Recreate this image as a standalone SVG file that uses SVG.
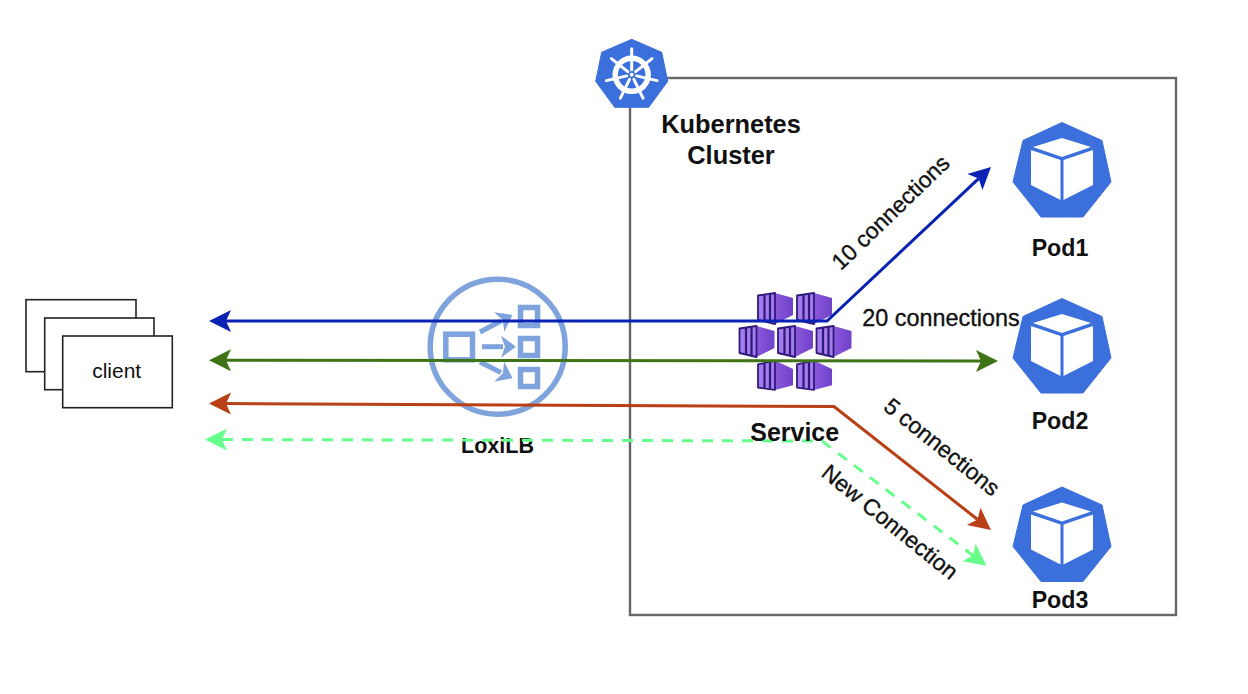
<svg xmlns="http://www.w3.org/2000/svg" width="1248" height="694" viewBox="0 0 1248 694">
<style>
text{font-family:"Liberation Sans",Arial,sans-serif;fill:#111}
.b{font-weight:bold;text-anchor:middle}
.pod{font-size:23.2px}
.lab{font-size:23.4px;text-anchor:middle;stroke:#111;stroke-width:.35px}
.rot{font-size:22.8px}
.box{fill:#fff;stroke:#222;stroke-width:1.6}
.conn{fill:none;stroke-width:3;stroke-linejoin:miter}
.lx{fill:none;stroke:#7ea3dd;stroke-width:5.5}
</style>
<defs>
<marker id="mb" markerUnits="userSpaceOnUse" markerWidth="24" markerHeight="24" refX="5" refY="11" orient="auto-start-reverse" viewBox="0 0 24 24"><path d="M22,11L0,0L5,11L0,22Z" fill="#0a22b4"/></marker>
<marker id="mg" markerUnits="userSpaceOnUse" markerWidth="24" markerHeight="24" refX="5" refY="11" orient="auto-start-reverse" viewBox="0 0 24 24"><path d="M22,11L0,0L5,11L0,22Z" fill="#3f7416"/></marker>
<marker id="mr" markerUnits="userSpaceOnUse" markerWidth="24" markerHeight="24" refX="5" refY="11" orient="auto-start-reverse" viewBox="0 0 24 24"><path d="M22,11L0,0L5,11L0,22Z" fill="#b93f15"/></marker>
<marker id="ml" markerUnits="userSpaceOnUse" markerWidth="24" markerHeight="24" refX="5" refY="11" orient="auto-start-reverse" viewBox="0 0 24 24"><path d="M22,11L0,0L5,11L0,22Z" fill="#66ff8c"/></marker>
<marker id="mx" markerUnits="userSpaceOnUse" markerWidth="20" markerHeight="22" refX="4" refY="11" orient="auto" viewBox="0 0 20 22"><path d="M17,11L2,0L6,11L2,22Z" fill="#7ea3dd"/></marker>
<linearGradient id="cg" x1="0" x2="1" y1="0" y2="0"><stop offset="0" stop-color="#8a58dc"/><stop offset="1" stop-color="#6f42c8"/></linearGradient>
<g id="pod">
<path d="M0,-47.5L40,-29.5L49,12L21,47L-21,47L-49,12L-39,-29.5Z" fill="#3a6fdc" stroke="#3a6fdc" stroke-width="1" stroke-linejoin="round"/>
<path d="M0,-32L29,-23L0,-13L-29,-23Z M-31,-20L-1.5,-10L-1.5,30L-31,15Z M1.5,-10L31,-20L31,15L1.5,30Z" fill="#fff"/>
</g>
<g id="ctr">
<path d="M17,0L35,5L35,22L17,31Z" fill="url(#cg)"/>
<path d="M0,2.5L17,0L17,31L0,27Z" fill="#a47cf0" stroke="#2f1a78" stroke-width="1.8" stroke-linejoin="round"/>
<path d="M6.5,2V28M12,1.2V29.5" stroke="#2f1a78" stroke-width="2.2" fill="none"/>
</g>
</defs>

<g id="cluster">
<rect x="630" y="78" width="546" height="537" fill="none" stroke="#666" stroke-width="2.4"/>
<text class="b" x="731" y="133" font-size="25.4">Kubernetes</text>
<text class="b" x="731" y="164" font-size="25.4">Cluster</text>
</g>

<g id="k8s-icon" transform="translate(631.7,73.3)">
<path d="M0,-34L30,-21L36,8L17,34L-17,34L-36,8L-30,-21Z" fill="#3a6fdc" stroke="#3a6fdc" stroke-linejoin="round" stroke-width="1"/>
<g transform="translate(0,1.5)" fill="none" stroke="#fff">
<circle r="16.5" stroke-width="5.5"/>
<circle r="2" fill="#fff" stroke="none"/>
<g stroke-width="3" stroke-linecap="round">
<path d="M0,-5V-26"/>
<path d="M3.9,-3.1L20.3,-16.2"/>
<path d="M4.9,1.1L25.3,5.8"/>
<path d="M2.2,4.5L11.3,23.4"/>
<path d="M-2.2,4.5L-11.3,23.4"/>
<path d="M-4.9,1.1L-25.3,5.8"/>
<path d="M-3.9,-3.1L-20.3,-16.2"/>
</g>
</g>
</g>

<g id="loxilb">
<circle class="lx" cx="497.7" cy="346.7" r="67.5"/>
<rect class="lx" x="445.8" y="334.2" width="26.7" height="25.6"/>
<rect class="lx" x="520.5" y="307.5" width="17" height="18"/>
<rect class="lx" x="520.5" y="338.5" width="17" height="17"/>
<rect class="lx" x="520.5" y="369.5" width="17" height="17"/>
<path d="M480,332L501,321" stroke="#7ea3dd" stroke-width="5" fill="none" marker-end="url(#mx)"/>
<path d="M482,346.7L503,346.7" stroke="#7ea3dd" stroke-width="5" fill="none" marker-end="url(#mx)"/>
<path d="M480,362L501,372.5" stroke="#7ea3dd" stroke-width="5" fill="none" marker-end="url(#mx)"/>
<text class="b" x="497.5" y="453" font-size="21.5">LoxiLB</text>
</g>

<g id="clients">
<rect class="box" x="26" y="299.7" width="110" height="72"/>
<rect class="box" x="44.7" y="318" width="109.3" height="71.7"/>
<rect class="box" x="62.7" y="336" width="109.6" height="71.7"/>
<text x="116.7" y="378" font-size="21" text-anchor="middle">client</text>
</g>

<g id="service-icon">
<use href="#ctr" x="758" y="293"/>
<use href="#ctr" x="797" y="293"/>
<use href="#ctr" x="739.5" y="326"/>
<use href="#ctr" x="778" y="326"/>
<use href="#ctr" x="816.5" y="326"/>
<use href="#ctr" transform="translate(758,390) scale(1,-0.95)"/>
<use href="#ctr" transform="translate(797,390) scale(1,-0.95)"/>
</g>

<g id="pod1"><use href="#pod" x="1062" y="170"/><text class="b pod" x="1060" y="256">Pod1</text></g>
<g id="pod2"><use href="#pod" x="1062" y="346"/><text class="b pod" x="1060" y="429">Pod2</text></g>
<g id="pod3"><use href="#pod" x="1062" y="534.5"/><text class="b pod" x="1060" y="608">Pod3</text></g>

<g id="connectors">
<path class="conn" stroke="#0a22b4" d="M226,321L827,321L978.6,178.6" marker-start="url(#mb)" marker-end="url(#mb)"/>
<path class="conn" stroke="#3f7416" d="M226,360.3L981,361" marker-start="url(#mg)" marker-end="url(#mg)"/>
<path class="conn" stroke="#b93f15" d="M226,403.5L834,406.5L977.6,519.5" marker-start="url(#mr)" marker-end="url(#mr)"/>
<path class="conn" stroke="#66ff8c" stroke-dasharray="11 9" d="M222,439.5L822,441L973,555.5" marker-start="url(#ml)" marker-end="url(#ml)"/>
</g>

<g id="labels">
<text class="b" x="794.7" y="441" font-size="25">Service</text>
<text class="lab" x="941" y="326">20 connections</text>
<text class="lab rot" transform="translate(896,218) rotate(-44)">10 connections</text>
<text class="lab rot" transform="translate(937,453) rotate(38.8)">5 connections</text>
<text class="lab rot" transform="translate(885,528) rotate(39)">New Connection</text>
</g>
</svg>
